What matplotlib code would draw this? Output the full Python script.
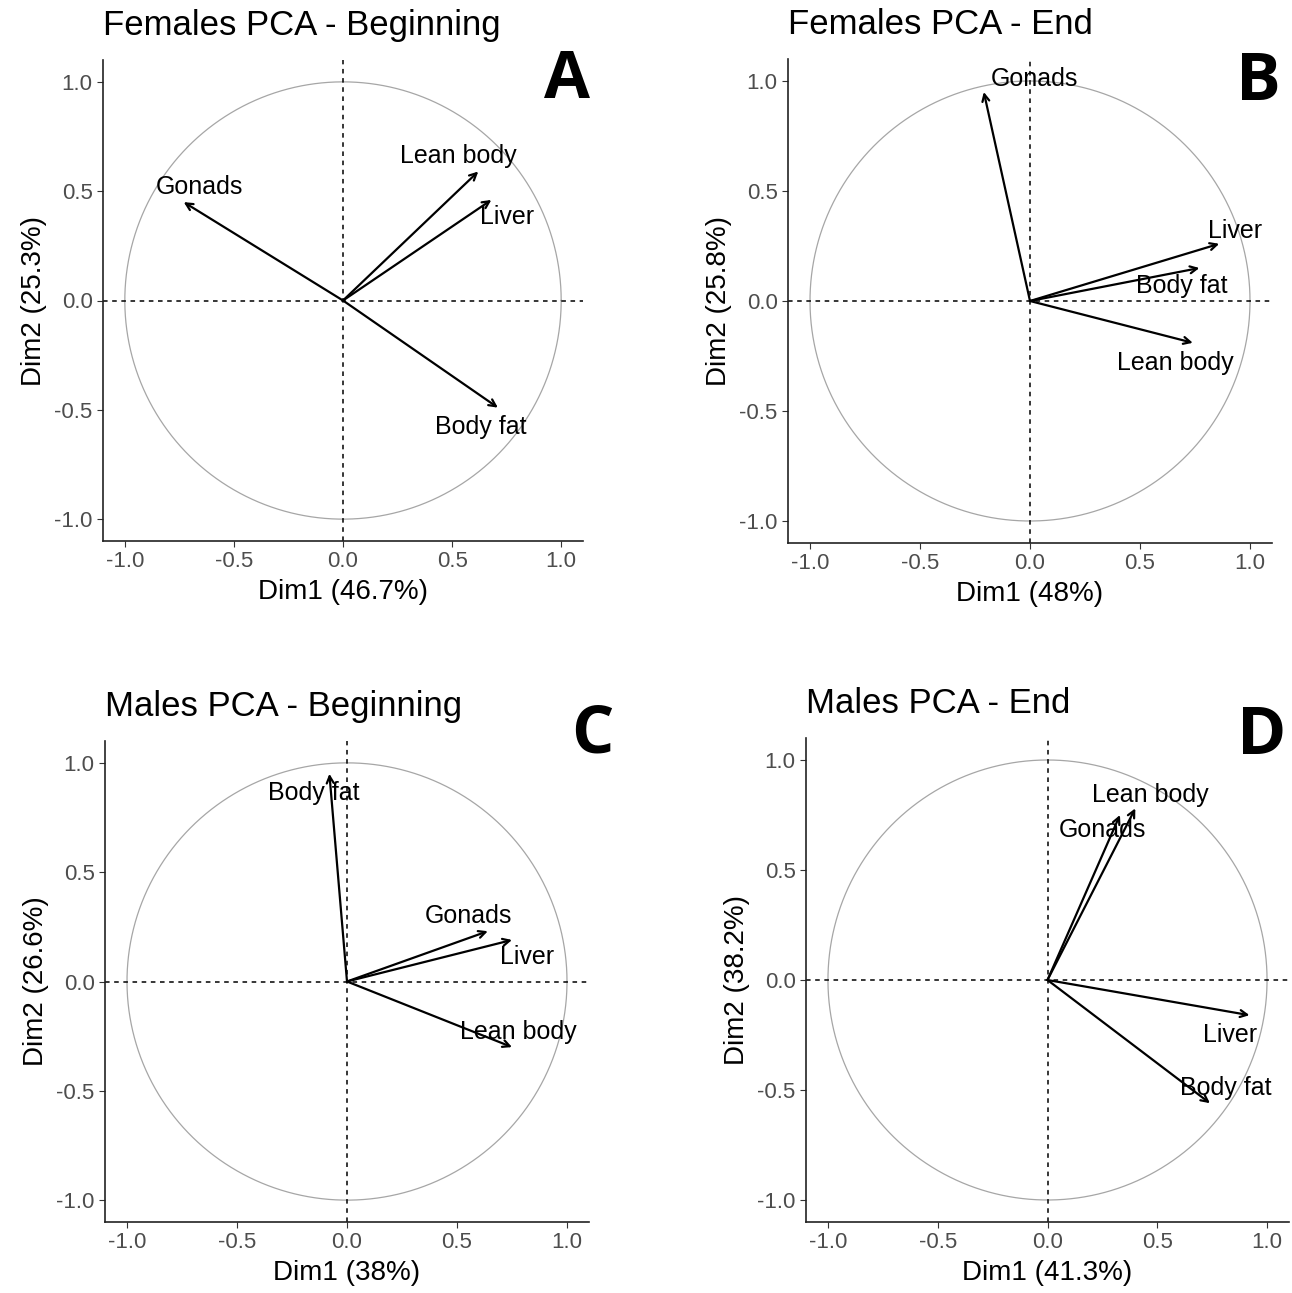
import numpy as np
import matplotlib
matplotlib.use("Agg")
import matplotlib.pyplot as plt

plt.rcParams['font.family'] = ['Liberation Sans', 'DejaVu Sans']
plt.rcParams['axes.unicode_minus'] = False

# panel titles and axis labels
titles = ["Females PCA - Beginning", "Females PCA - End",
          "Males PCA - Beginning", "Males PCA - End"]
panel_letters = ["A", "B", "C", "D"]
dim1_labels = ["Dim1 (46.7%)", "Dim1 (48%)", "Dim1 (38%)", "Dim1 (41.3%)"]
dim2_labels = ["Dim2 (25.3%)", "Dim2 (25.8%)", "Dim2 (26.6%)", "Dim2 (38.2%)"]

variables = ["Gonads", "Lean body", "Liver", "Body fat"]

# variable coordinates (Dim1, Dim2) per panel
dim1_A = [-0.73, 0.62, 0.68, 0.71]
dim2_A = [0.45, 0.59, 0.46, -0.49]
dim1_B = [-0.21, 0.74, 0.86, 0.77]
dim2_B = [0.95, -0.19, 0.26, 0.15]
dim1_C = [0.64, 0.75, 0.75, -0.08]
dim2_C = [0.23, -0.30, 0.19, 0.95]
dim1_D = [0.33, 0.40, 0.92, 0.74]
dim2_D = [0.75, 0.78, -0.16, -0.56]

# repelled label positions
labx_A = [-0.66, 0.53, 0.75, 0.63]
laby_A = [0.52, 0.66, 0.38, -0.58]
labx_B = [0.02, 0.66, 0.93, 0.69]
laby_B = [1.01, -0.28, 0.32, 0.07]
labx_C = [0.55, 0.78, 0.82, -0.15]
laby_C = [0.30, -0.23, 0.11, 0.86]
labx_D = [0.25, 0.47, 0.83, 0.81]
laby_D = [0.68, 0.84, -0.25, -0.49]

dims1 = [dim1_A, dim1_B, dim1_C, dim1_D]
dims2 = [dim2_A, dim2_B, dim2_C, dim2_D]
labxs = [labx_A, labx_B, labx_C, labx_D]
labys = [laby_A, laby_B, laby_C, laby_D]

fig = plt.figure(figsize=(12.92, 12.93), dpi=100)

W, H = 1292, 1293
# axes boxes in pixels: left, top, right, bottom
boxes = [(103, 60, 583, 541), (788, 59, 1272, 543),
         (105, 741, 589, 1222), (806, 738, 1289, 1222)]
letter_pos = [(567, 80), (1258, 83), (592, 735), (1262, 737)]

theta = np.linspace(0, 2 * np.pi, 400)
ticks = [-1.0, -0.5, 0.0, 0.5, 1.0]

for i in range(4):
    l, t, r, b = boxes[i]
    ax = fig.add_axes([l / W, 1 - b / H, (r - l) / W, (b - t) / H])
    ax.set_xlim(-1.1, 1.1)
    ax.set_ylim(-1.1, 1.1)

    ax.plot(np.cos(theta), np.sin(theta), color='#a6a6a6', lw=0.9)
    ax.axhline(0, color='black', ls=(0, (3, 3)), lw=1.1)
    ax.axvline(0, color='black', ls=(0, (3, 3)), lw=1.1)

    for x, y in zip(dims1[i], dims2[i]):
        ax.annotate("", xy=(x, y), xytext=(0, 0),
                    arrowprops=dict(arrowstyle='->,head_length=0.5,head_width=0.25',
                                    color='black', lw=1.6, shrinkA=0, shrinkB=0))
    for name, lx, ly in zip(variables, labxs[i], labys[i]):
        ax.text(lx, ly, name, ha='center', va='center', fontsize=18, color='black')

    ax.set_xticks(ticks)
    ax.set_yticks(ticks)
    ax.set_xticklabels([f"{v:.1f}" for v in ticks])
    ax.set_yticklabels([f"{v:.1f}" for v in ticks])
    ax.tick_params(labelsize=16, labelcolor='#4d4d4d', color='#333333',
                   length=4, width=0.8)
    for s in ['top', 'right']:
        ax.spines[s].set_visible(False)
    for s in ['left', 'bottom']:
        ax.spines[s].set_linewidth(1.2)
        ax.spines[s].set_color('#222222')

    ax.set_xlabel(dim1_labels[i], fontsize=20, labelpad=5)
    ax.set_ylabel(dim2_labels[i], fontsize=20, labelpad=5)
    ax.set_title(titles[i], loc='left', fontsize=25, pad=18)

    lx, ly = letter_pos[i]
    fig.text(lx / W, 1 - ly / H, panel_letters[i], ha='center', va='center',
             fontsize=48, fontweight='bold', family=['Open Sans', 'DejaVu Sans'])

fig.savefig("out.png", dpi=100)
